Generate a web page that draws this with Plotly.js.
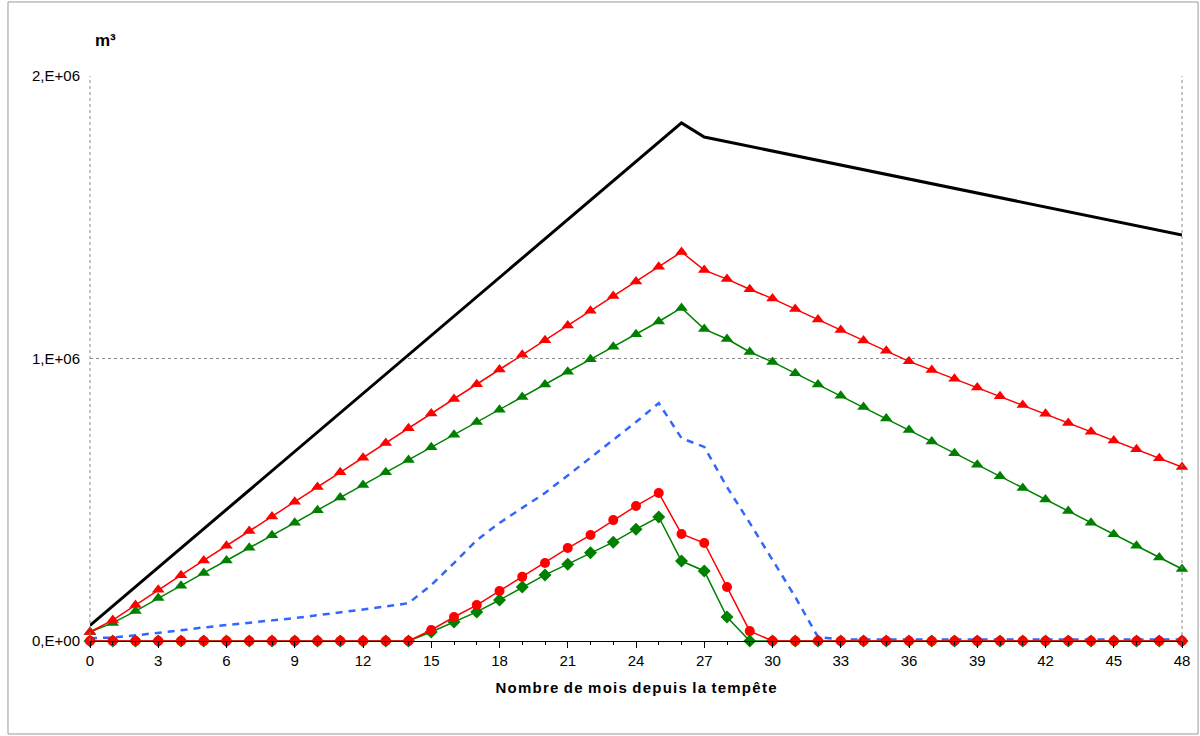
<!DOCTYPE html>
<html>
<head>
<meta charset="utf-8">
<script src="https://cdn.plot.ly/plotly-3.0.1.min.js"></script>
<style>
  body { margin: 0; background: #fff; }
  #chart { width: 1200px; height: 736px; }
</style>
</head>
<body>
<div id="chart"></div>
<script>
// months since the storm
const months = Array.from({ length: 49 }, (_, i) => i);

// black total line (only its break points)
const totalMonths = [0, 26, 27, 48];
const totalValues = [55000, 1834000, 1784000, 1437000];

// values in thousands of m3
const redTriangles = [32, 74, 127, 181, 233, 285, 337, 389, 441, 493, 545, 597, 649, 701, 753, 805, 857, 909, 961, 1013, 1065, 1117, 1169, 1221, 1273, 1325, 1377, 1313, 1281, 1245, 1212, 1175, 1138, 1101, 1064, 1027, 990, 959, 928, 897, 866, 835, 804, 772, 741, 710, 679, 647, 616];
const greenTriangles = [32, 64, 106, 152, 196, 241, 285, 330, 374, 419, 463, 508, 552, 597, 641, 686, 730, 775, 819, 864, 908, 953, 997, 1042, 1086, 1131, 1179, 1104, 1069, 1023, 988, 948, 908, 868, 828, 788, 747, 706, 665, 624, 583, 542, 501, 460, 419, 378, 337, 296, 255];
const blueDashed = [10, 12, 20, 28, 38, 48, 57, 65, 73, 81, 91, 100, 110, 122, 134, 198, 276, 357, 418, 470, 524, 586, 648, 710, 775, 842, 718, 687, 545, 418, 287, 156, 14, 5, 5, 5, 5, 5, 5, 5, 5, 5, 5, 5, 5, 5, 5, 5, 5];
const greenDiamonds = [0, 0, 0, 0, 0, 0, 0, 0, 0, 0, 0, 0, 0, 0, 0, 32, 67, 103, 145, 191, 234, 272, 312, 350, 396, 439, 283, 248, 85, 0, 0, 0, 0, 0, 0, 0, 0, 0, 0, 0, 0, 0, 0, 0, 0, 0, 0, 0, 0];
const redCircles = [0, 0, 0, 0, 0, 0, 0, 0, 0, 0, 0, 0, 0, 0, 0, 39, 85, 127, 177, 227, 276, 329, 375, 428, 478, 524, 379, 347, 191, 35, 0, 0, 0, 0, 0, 0, 0, 0, 0, 0, 0, 0, 0, 0, 0, 0, 0, 0, 0];

const yTickVals = [0, 1000000, 2000000];
const yTickText = ["0,E+00", "1,E+06", "2,E+06"];

const k = arr => arr.map(v => v * 1000);

const RED = "#ff0000";
const GREEN = "#008000";

const traces = [
  { x: totalMonths, y: totalValues, mode: "lines", line: { color: "#000", width: 3 } },
  { x: months, y: k(blueDashed), mode: "lines", line: { color: "#3366ff", width: 2.5, dash: "7px,6px" } },
  { x: months, y: k(greenTriangles), mode: "lines+markers", line: { color: GREEN, width: 1.5 },
    marker: { symbol: "triangle-up", size: 11, color: GREEN } },
  { x: months, y: k(redTriangles), mode: "lines+markers", line: { color: RED, width: 1.5 },
    marker: { symbol: "triangle-up", size: 11, color: RED } },
  { x: months, y: k(greenDiamonds), mode: "lines+markers", line: { color: GREEN, width: 1.5 },
    marker: { symbol: "diamond", size: 10, color: GREEN } },
  { x: months, y: k(redCircles), mode: "lines+markers", line: { color: RED, width: 1.5 },
    marker: { symbol: "circle", size: 10, color: RED } }
].map(t => Object.assign({ type: "scatter", cliponaxis: false, hoverinfo: "skip" }, t));

const layout = {
  width: 1200,
  height: 736,
  paper_bgcolor: "#fff",
  plot_bgcolor: "#fff",
  showlegend: false,
  font: { family: "Liberation Sans, Arial, sans-serif", size: 15, color: "#000" },
  margin: { l: 90, r: 18, t: 76, b: 95 },
  xaxis: {
    range: [0, 48],
    tickvals: months.filter(m => m % 3 === 0),
    ticks: "outside",
    ticklen: 6,
    tickcolor: "#000",
    tickfont: { size: 15 },
    showline: true,
    linecolor: "#000",
    linewidth: 1,
    showgrid: false,
    zeroline: false,
    minor: { dtick: 1, ticks: "outside", ticklen: 3, tickcolor: "#000" },
    title: { text: "<b>N o m b r e  d e  m o i s  d e p u i s  l a  t e m p ê t e</b>".replace(/ (?! )/g, "\u200A").replace(/  /g, " "), font: { size: 15 }, standoff: 14 }
  },
  yaxis: {
    range: [0, 2000000],
    tickvals: yTickVals,
    ticktext: yTickText,
    ticks: "outside",
    ticklen: 6,
    tickcolor: "rgba(0,0,0,0)",
    tickfont: { size: 15 },
    showline: false,
    zeroline: false,
    showgrid: true,
    gridcolor: "#888",
    griddash: "dot",
    gridwidth: 1
  },
  shapes: [
    { type: "line", xref: "paper", yref: "paper", x0: 0, x1: 0, y0: 0, y1: 1,
      line: { color: "#888", width: 1, dash: "dot" } },
    { type: "line", xref: "paper", yref: "paper", x0: 1, x1: 1, y0: 0, y1: 1,
      line: { color: "#888", width: 1, dash: "dot" } },
    { type: "rect", xref: "paper", yref: "paper", x0: -0.0751, x1: 1.0147, y0: -0.1646, y1: 1.131,
      line: { color: "#999", width: 1 } }
  ],
  annotations: [
    { xref: "paper", yref: "paper", x: 0.003, y: 1.062, xanchor: "left", yanchor: "middle",
      text: "<b>m³</b>", showarrow: false, font: { size: 17 } }
  ]
};

Plotly.newPlot("chart", traces, layout, { displayModeBar: false, staticPlot: true });
</script>
</body>
</html>
